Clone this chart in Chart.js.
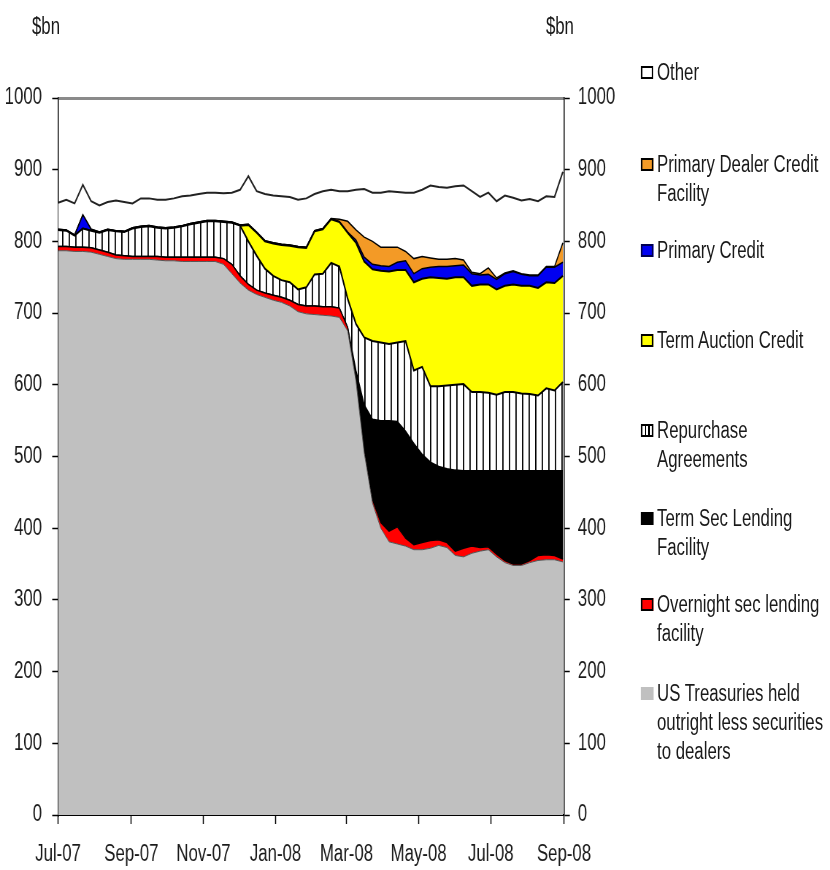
<!DOCTYPE html>
<html lang="en">
<head>
    <meta charset="UTF-8">
    <title>Fed balance sheet - assets</title>
    <script src="https://cdn.jsdelivr.net/npm/chart.js"></script>
    <style>
        * {
            margin: 0;
            padding: 0;
            box-sizing: border-box;
        }

        body {
            width: 830px;
            height: 870px;
            overflow: hidden;
            background: #fff;
            font-family: "Liberation Sans", Arial, sans-serif;
            color: #1a1a1a;
        }

        /* the original is squeezed sideways, so the whole stage is drawn wide and scaled */
        .stage {
            position: absolute;
            left: 0;
            top: 0;
            width: 1137px;
            height: 870px;
            transform: scaleX(0.73);
            transform-origin: 0 0;
        }

        #chart {
            position: absolute;
            left: 0;
            top: 0;
        }

        .unit {
            position: absolute;
            top: 13px;
            width: 80px;
            text-align: center;
            font-size: 23px;
        }

        .legend-item {
            position: absolute;
            left: 878px;
            font-size: 23px;
            line-height: 29px;
            white-space: nowrap;
        }

        .legend-item .box {
            position: absolute;
            left: 0;
            top: 8px;
            width: 17px;
            height: 13px;
            border: 2px solid #000;
        }

        .legend-item .text {
            margin-left: 22px;
        }
    </style>
</head>
<body>
    <div class="stage">
        <canvas id="chart" width="850" height="870"></canvas>

        <div class="unit" style="left: 23px;">$bn</div>
        <div class="unit" style="left: 727px;">$bn</div>

        <div id="legend"></div>
    </div>

    <script>
        // weekly observations, Jul-07 to Aug-08
        const weeks = [
            '2007-07-01', '2007-07-08', '2007-07-15', '2007-07-22', '2007-07-29',
            '2007-08-05', '2007-08-12', '2007-08-19', '2007-08-26',
            '2007-09-02', '2007-09-09', '2007-09-16', '2007-09-23', '2007-09-30',
            '2007-10-07', '2007-10-14', '2007-10-21', '2007-10-28',
            '2007-11-04', '2007-11-11', '2007-11-18', '2007-11-25',
            '2007-12-02', '2007-12-09', '2007-12-16', '2007-12-23', '2007-12-30',
            '2008-01-06', '2008-01-13', '2008-01-20', '2008-01-27',
            '2008-02-03', '2008-02-10', '2008-02-17', '2008-02-24',
            '2008-03-02', '2008-03-09', '2008-03-16', '2008-03-23', '2008-03-30',
            '2008-04-06', '2008-04-13', '2008-04-20', '2008-04-27',
            '2008-05-04', '2008-05-11', '2008-05-18', '2008-05-25',
            '2008-06-01', '2008-06-08', '2008-06-15', '2008-06-22', '2008-06-29',
            '2008-07-06', '2008-07-13', '2008-07-20', '2008-07-27',
            '2008-08-03', '2008-08-10', '2008-08-17', '2008-08-24', '2008-08-31'
        ];

        const tickDates = ['2007-07-01', '2007-09-01', '2007-11-01', '2008-01-01',
                           '2008-03-01', '2008-05-01', '2008-07-01', '2008-09-01'];
        const tickLabels = ['Jul-07', 'Sep-07', 'Nov-07', 'Jan-08',
                            'Mar-08', 'May-08', 'Jul-08', 'Sep-08'];

        // $bn, bottom of the stack first
        const treasuries = [787, 787, 786, 786, 785, 782, 779, 776, 775, 775,
                            775, 775, 774, 773, 773, 772, 772, 772, 772, 772,
                            768, 755, 742, 732, 726, 722, 718, 715, 710, 702,
                            699, 698, 697, 696, 694, 675, 605, 505, 435, 400,
                            381, 378, 375, 370, 370, 372, 376, 373, 362, 360,
                            365, 368, 370, 360, 352, 348, 348, 352, 355, 356,
                            356, 353];
        const overnightSecLending = [6, 6, 6, 6, 6, 6, 6, 5, 5, 4,
                                     4, 4, 5, 5, 5, 6, 6, 6, 6, 6,
                                     8, 13, 10, 8, 6, 6, 7, 7, 8, 10,
                                     11, 12, 12, 13, 13, 5, 3, 5, 5, 8,
                                     15, 24, 11, 7, 10, 11, 8, 7, 6, 12,
                                     10, 5, 4, 4, 3, 2, 2, 3, 7, 7,
                                     6, 4];
        const termSecLending = [0, 0, 0, 0, 0, 0, 0, 0, 0, 0,
                                0, 0, 0, 0, 0, 0, 0, 0, 0, 0,
                                0, 0, 0, 0, 0, 0, 0, 0, 0, 0,
                                0, 0, 0, 0, 0, 0, 12, 62, 112, 142,
                                154, 147, 149, 141, 123, 109, 102, 103, 113, 108,
                                105, 107, 106, 116, 125, 130, 130, 125, 118, 117,
                                118, 123];
        const repos = [23, 22, 16, 26, 24, 24, 31, 33, 33, 39,
                       41, 42, 40, 40, 41, 43, 46, 48, 50, 50,
                       51, 58, 70, 60, 48, 34, 27, 24, 25, 21,
                       26, 44, 46, 61, 58, 40, 65, 94, 109, 109,
                       107, 110, 126, 102, 122, 106, 112, 116, 119, 121,
                       110, 110, 109, 106, 110, 110, 108, 107, 105, 115,
                       112, 124];
        const termAuction = [0, 0, 0, 0, 0, 0, 0, 0, 0, 0,
                             0, 0, 0, 0, 0, 0, 0, 0, 0, 0,
                             0, 0, 0, 23, 32, 38, 45, 49, 51, 59,
                             55, 60, 62, 61, 62, 92, 113, 106, 100, 100,
                             101, 101, 99, 123, 123, 152, 151, 149, 150, 149,
                             148, 150, 151, 147, 148, 150, 150, 151, 150, 148,
                             150, 148];
        const primaryCredit = [1, 1, 1, 19, 2, 1, 1, 1, 1, 1,
                               1, 1, 1, 1, 1, 1, 1, 1, 1, 1,
                               1, 1, 1, 1, 1, 1, 1, 1, 1, 1,
                               1, 1, 1, 1, 1, 1, 4, 6, 7, 7,
                               7, 11, 13, 12, 14, 14, 16, 17, 16, 17,
                               17, 13, 14, 14, 17, 18, 16, 14, 17, 21,
                               22, 19];
        const primaryDealer = [0, 0, 0, 0, 0, 0, 0, 0, 0, 0,
                               0, 0, 0, 0, 0, 0, 0, 0, 0, 0,
                               0, 0, 0, 0, 0, 0, 0, 0, 0, 0,
                               0, 0, 0, 0, 3, 15, 14, 28, 32, 26,
                               27, 21, 13, 21, 17, 13, 10, 10, 10, 7,
                               2, 2, 9, 2, 1, 1, 1, 1, 1, 1,
                               1, 27];
        const other = [37, 42, 44, 42, 39, 37, 38, 42, 41, 34,
                       39, 38, 38, 39, 40, 41, 39, 39, 39, 39,
                       39, 41, 49, 67, 57, 65, 66, 67, 67, 65,
                       68, 51, 52, 40, 39, 42, 56, 67, 68, 76,
                       78, 77, 82, 92, 93, 101, 101, 100, 101, 104,
                       113, 107, 105, 107, 108, 102, 102, 106, 103, 98,
                       97, 99];

        const FONT = { family: '"Liberation Sans", Arial, sans-serif', size: 23 };
        const TEXT_COLOR = '#1a1a1a';

        const origin = Date.parse(tickDates[0]);
        const toDay = d => (Date.parse(d) - origin) / 86400000;
        const tickDays = tickDates.map(toDay);

        function series(values) {
            return values.map((v, i) => ({ x: toDay(weeks[i]), y: v }));
        }

        function hatchPattern() {
            const c = document.createElement('canvas');
            c.width = 9;
            c.height = 9;
            const g = c.getContext('2d');
            g.fillStyle = '#fff';
            g.fillRect(0, 0, 9, 9);
            g.fillStyle = '#000';
            g.fillRect(4, 0, 1.8, 9);
            return g.createPattern(c, 'repeat');
        }

        const layers = [
            { name: 'US Treasuries held outright less securities to dealers', data: treasuries, color: '#c0c0c0', line: '#555', width: 1 },
            { name: 'Overnight sec lending facility', data: overnightSecLending, color: '#ff0000', line: '#000', width: 1.5 },
            { name: 'Term Sec Lending Facility', data: termSecLending, color: '#000', line: '#000', width: 1.5 },
            { name: 'Repurchase Agreements', data: repos, color: hatchPattern(), line: '#000', width: 2 },
            { name: 'Term Auction Credit', data: termAuction, color: '#ffff00', line: '#000', width: 2 },
            { name: 'Primary Credit', data: primaryCredit, color: '#0000f0', line: '#000', width: 1.5 },
            { name: 'Primary Dealer Credit Facility', data: primaryDealer, color: '#f39a26', line: '#000', width: 1.5 },
            { name: 'Other', data: other, color: '#ffffff', line: '#222', width: 2 }
        ];

        new Chart(document.getElementById('chart'), {
            type: 'line',
            data: {
                datasets: layers.map((l, i) => ({
                    label: l.name,
                    data: series(l.data),
                    backgroundColor: l.color,
                    borderColor: l.line,
                    borderWidth: l.width,
                    fill: i === 0 ? 'origin' : '-1',
                    pointRadius: 0,
                    tension: 0
                }))
            },
            options: {
                responsive: false,
                animation: false,
                devicePixelRatio: 1,
                layout: { padding: { top: 98, left: 0, right: 0, bottom: 0 } },
                plugins: {
                    legend: { display: false },
                    tooltip: { enabled: false }
                },
                scales: {
                    x: {
                        type: 'linear',
                        min: 0,
                        max: 428,
                        afterBuildTicks: axis => {
                            axis.ticks = tickDays.map(v => ({ value: v }));
                        },
                        afterFit: scale => { scale.height = 55; },
                        border: { color: '#000', width: 2 },
                        grid: {
                            drawOnChartArea: false,
                            tickLength: 9,
                            tickColor: '#000',
                            tickWidth: 1.5
                        },
                        ticks: {
                            autoSkip: false,
                            maxRotation: 0,
                            padding: 17,
                            font: FONT,
                            color: TEXT_COLOR,
                            callback: value => tickLabels[tickDays.indexOf(value)]
                        }
                    },
                    y: {
                        stacked: true,
                        min: 0,
                        max: 1000,
                        afterFit: scale => { scale.width = 79.5; },
                        border: { color: '#000', width: 1.5 },
                        grid: {
                            color: ctx => (ctx.tick && ctx.tick.value === 1000) ? '#8a8a8a' : 'rgba(0,0,0,0)',
                            lineWidth: 3,
                            tickLength: 8,
                            tickColor: '#000',
                            tickWidth: 1.5
                        },
                        ticks: {
                            stepSize: 100,
                            padding: 14,
                            font: FONT,
                            color: TEXT_COLOR,
                            callback: value => String(value)
                        }
                    },
                    y2: {
                        position: 'right',
                        min: 0,
                        max: 1000,
                        afterFit: scale => { scale.width = 77.4; },
                        border: { color: '#000', width: 1.5 },
                        grid: {
                            drawOnChartArea: false,
                            tickLength: 8,
                            tickColor: '#000',
                            tickWidth: 1.5
                        },
                        ticks: {
                            stepSize: 100,
                            padding: 11,
                            font: FONT,
                            color: TEXT_COLOR,
                            callback: value => String(value)
                        }
                    }
                }
            }
        });

        // legend down the right-hand side, top entry first
        const legendEntries = [
            { lines: ['Other'], y: 72, box: 'background:#fff;' },
            { lines: ['Primary Dealer Credit', 'Facility'], y: 164, box: 'background:#f39a26;' },
            { lines: ['Primary Credit'], y: 250, box: 'background:#0000f0; border-color:#000050;' },
            { lines: ['Term Auction Credit'], y: 340, box: 'background:#ffff00;' },
            { lines: ['Repurchase', 'Agreements'], y: 430, box: 'background:repeating-linear-gradient(90deg,#fff 0 3px,#000 3px 5px);' },
            { lines: ['Term Sec Lending', 'Facility'], y: 518, box: 'background:#000;' },
            { lines: ['Overnight sec lending', 'facility'], y: 604, box: 'background:#ff0000;' },
            { lines: ['US Treasuries held', 'outright less securities', 'to dealers'], y: 693, box: 'background:#c0c0c0; border-color:#c0c0c0;' }
        ];

        const legend = document.getElementById('legend');
        legendEntries.forEach(e => {
            const item = document.createElement('div');
            item.className = 'legend-item';
            item.style.top = (e.y - 14.5) + 'px';
            item.innerHTML = '<span class="box" style="' + e.box + '"></span>' +
                '<div class="text">' + e.lines.join('<br>') + '</div>';
            legend.appendChild(item);
        });
    </script>
</body>
</html>
